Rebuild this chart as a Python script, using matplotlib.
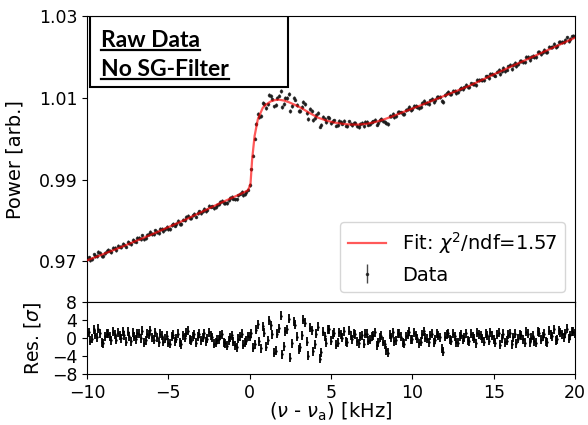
import numpy as np
import matplotlib
matplotlib.use("Agg")
import matplotlib.pyplot as plt
from matplotlib.patches import Rectangle
from matplotlib.lines import Line2D

# frequency scan grid (kHz): two interleaved sweeps, 0.2 kHz step each
freq_a = np.linspace(-10, 20, 151)
freq_b = np.linspace(-9.9, 19.9, 150)

# measured power (arb.), sweep a
power_a = [
    0.97056, 0.97024, 0.97168, 0.97122, 0.97194, 0.97121, 0.97247, 0.97251, 0.97331, 0.97281,
    0.97357, 0.97431, 0.97360, 0.97447, 0.97516, 0.97482, 0.97569, 0.97633, 0.97572, 0.97659,
    0.97669, 0.97754, 0.97690, 0.97788, 0.97791, 0.97786, 0.97888, 0.97874, 0.97981, 0.97912,
    0.98015, 0.98120, 0.98059, 0.98160, 0.98176, 0.98178, 0.98288, 0.98267, 0.98341, 0.98294,
    0.98372, 0.98449, 0.98422, 0.98422, 0.98543, 0.98534, 0.98516, 0.98660, 0.98613, 0.98693,
    0.98861, 0.99591, 1.00356, 1.00542, 1.00877, 1.00755, 1.01069, 1.00968, 1.00826, 1.01059,
    1.00785, 1.00995, 1.01094, 1.00811, 1.00961, 1.00678, 1.00777, 1.00855, 1.00479, 1.00685,
    1.00501, 1.00633, 1.00348, 1.00482, 1.00526, 1.00393, 1.00454, 1.00339, 1.00412, 1.00434,
    1.00318, 1.00373, 1.00400, 1.00319, 1.00368, 1.00304, 1.00411, 1.00368, 1.00429, 1.00350,
    1.00455, 1.00434, 1.00377, 1.00558, 1.00615, 1.00566, 1.00661, 1.00606, 1.00700, 1.00775,
    1.00730, 1.00801, 1.00751, 1.00872, 1.00873, 1.00860, 1.00977, 1.00946, 1.01019, 1.00920,
    1.01074, 1.01142, 1.01097, 1.01174, 1.01143, 1.01252, 1.01261, 1.01262, 1.01360, 1.01347,
    1.01447, 1.01454, 1.01432, 1.01532, 1.01602, 1.01562, 1.01648, 1.01585, 1.01729, 1.01697,
    1.01810, 1.01805, 1.01778, 1.01904, 1.01891, 1.02003, 1.01936, 1.02035, 1.01999, 1.02138,
    1.02134, 1.02125, 1.02264, 1.02246, 1.02242, 1.02377, 1.02372, 1.02422, 1.02399, 1.02512,
    1.02521,
]
# measured power (arb.), sweep b
power_b = [
    0.97094, 0.97058, 0.97129, 0.97223, 0.97119, 0.97209, 0.97267, 0.97230, 0.97320, 0.97369,
    0.97342, 0.97407, 0.97476, 0.97414, 0.97492, 0.97561, 0.97545, 0.97533, 0.97651, 0.97720,
    0.97660, 0.97722, 0.97793, 0.97747, 0.97840, 0.97794, 0.97919, 0.97914, 0.97917, 0.98020,
    0.98083, 0.98054, 0.98123, 0.98094, 0.98222, 0.98224, 0.98226, 0.98354, 0.98342, 0.98326,
    0.98395, 0.98480, 0.98426, 0.98494, 0.98579, 0.98516, 0.98615, 0.98701, 0.98651, 0.98758,
    0.99250, 1.00007, 1.00620, 1.00564, 1.00854, 1.00845, 1.01046, 1.00796, 1.00997, 1.01178,
    1.00859, 1.01003, 1.00685, 1.01010, 1.00824, 1.00680, 1.00911, 1.00642, 1.00734, 1.00456,
    1.00587, 1.00299, 1.00541,
    1.00405, 1.00520, 1.00442, 1.00327, 1.00441, 1.00375, 1.00326, 1.00426, 1.00337, 1.00386,
    1.00296, 1.00385, 1.00411, 1.00351, 1.00412, 1.00469, 1.00394, 1.00481, 1.00421, 1.00364,
    1.00549, 1.00541, 1.00654, 1.00649, 1.00608, 1.00729, 1.00710, 1.00812, 1.00789, 1.00784,
    1.00920, 1.00875, 1.00943, 1.00899, 1.01021, 1.01021, 1.00909, 1.01112, 1.01095, 1.01185,
    1.01132, 1.01222, 1.01218, 1.01318, 1.01269, 1.01351, 1.01321, 1.01448, 1.01445, 1.01532,
    1.01497, 1.01584, 1.01553, 1.01688, 1.01670, 1.01666, 1.01774, 1.01715, 1.01859, 1.01841,
    1.01913, 1.01873, 1.01999, 1.01999, 1.01999, 1.02134, 1.02084, 1.02183, 1.02134, 1.02242,
    1.02332, 1.02269, 1.02377, 1.02363, 1.02485, 1.02453, 1.02525,
]
power_err = 0.00045

# residuals in units of sigma, sweep a
resid_a = [
    0.8, -0.6, 1.9, 0.2, 1.1, -1.2, 0.9, 0.3, 1.4, -0.4,
    0.6, 1.5, -0.8, 0.4, 1.2, -0.3, 0.9, 1.6, -0.5, 0.7,
    0.2, 1.3, -0.9, 0.5, -0.2, -1.1, 0.4, -0.7, 0.9, -1.4,
    0.1, 1.6, -0.6, 0.8, 0.3, -0.5, 1.1, -0.2, 0.6, -1.3,
    -0.4, 0.5, -0.9, -1.7, 0.2, -0.8, -2.0, 0.4, -1.5, -0.6,
    0.3, -2.2, 1.8, -0.7, 2.6, -1.9, 3.9, 0.8, -2.8, 2.2,
    -3.6, 1.5, 4.3, -1.2, 2.9, -2.5, 0.6, 3.4, -3.9, 1.7,
    -1.4, 2.5, -3.2, 0.4, 1.9, -0.6, 1.2, -1.1, 0.8, 1.5,
    -0.9, 0.5, 1.1, -0.7, 0.3, -1.3, 0.9, -0.4, 0.6, -1.6,
    0.2, -0.8, -2.7, 0.7, 1.3, -0.5, 0.9, -1.0, 0.4, 1.4,
    -0.3, 0.6, -1.2, 0.8, 0.1, -0.9, 1.0, -0.4, 0.5, -2.4,
    0.3, 1.1, -0.6, 0.4, -1.0, 0.7, 0.2, -0.5, 0.9, -0.2,
    1.2, 0.5, -0.8, 0.6, 1.3, -0.4, 0.7, -1.5, 0.9, -0.6,
    1.1, 0.2, -1.2, 0.8, -0.3, 1.4, -0.9, 0.5, -1.1, 1.2,
    0.3, -0.7, 1.6, 0.4, -0.5, 1.7, 0.8, 1.1, -0.2, 1.5,
    0.9,
]
# residuals in units of sigma, sweep b
resid_b = [
    1.3, -0.2, 0.7, 2.1, -0.9, 0.4, 1.0, -0.5, 0.8, 1.2,
    -0.1, 0.6, 1.4, -0.7, 0.3, 1.1, 0.0, -1.0, 0.9, 1.7,
    -0.4, 0.2, 1.0, -0.8, 0.5, -1.3, 0.7, -0.2, -0.9, 0.6,
    1.2, -0.3, 0.4, -1.1, 0.9, 0.1, -0.7, 1.3, 0.2, -1.0,
    -0.3, 0.8, -1.2, -0.5, 0.6, -1.6, -0.2, 0.9, -1.1, 0.4,
    1.1, -1.4, 3.1, -2.3, 1.2, -0.5, 2.8, -3.3, 0.9, 5.0,
    -1.8, 2.0, -4.4, 3.6, 0.3, -2.0, 4.1, -0.8, 2.3, -2.9,
    1.0, -4.6, 1.4,
    -1.0, 2.0, 0.7, -1.5, 1.3, 0.1, -0.8, 1.6, -0.3, 0.8,
    -1.2, 0.6, 1.0, -0.6, 0.4, 1.3, -0.9, 0.5, -1.4, -3.3,
    0.2, -0.7, 1.1, 0.3, -1.3, 0.7, -0.4, 1.2, 0.0, -0.8,
    1.5, -0.2, 0.6, -1.1, 0.9, 0.2, -3.0, 0.8, -0.3, 1.0,
    -0.9, 0.4, -0.4, 1.1, -0.7, 0.3, -1.2, 0.8, -0.1, 1.0,
    -0.6, 0.5, -1.0, 1.2, 0.0, -0.9, 0.7, -1.4, 1.0, -0.2,
    0.6, -1.1, 0.9, 0.1, -0.7, 1.5, -0.4, 1.0, -0.9, 0.7,
    1.9, -0.3, 1.3, 0.2, 2.1, 0.6, 1.4,
]

# fit curve
fit_x = [-10, -8, -6, -4, -2, -1, -0.5, -0.1, 0.05, 0.15, 0.3, 0.5, 0.8, 1.0, 1.3,
         1.55, 1.8, 2.1, 2.4, 2.8, 3.2, 3.7, 4.2, 4.7, 5.2, 5.7, 6.2, 6.7, 7.2, 7.7,
         8.2, 8.7, 9.2, 10.5, 12, 13.5, 15, 16.5, 18, 20]
fit_y = [0.9702, 0.9733, 0.9766, 0.9801, 0.9839, 0.9857, 0.9866, 0.9874, 0.9890, 0.9950,
         1.0007, 1.0048, 1.0076, 1.0084, 1.0092, 1.0095, 1.0096, 1.0094, 1.0090, 1.0083,
         1.0075, 1.0063, 1.0052, 1.0045, 1.0040, 1.0037, 1.0035, 1.0035, 1.0037, 1.0041,
         1.0047, 1.0054, 1.0062, 1.0082, 1.0106, 1.0130, 1.0158, 1.0185, 1.0212, 1.0248]

freq = np.concatenate([freq_a, freq_b])
power = np.concatenate([power_a, power_b])
resid = np.concatenate([resid_a, resid_b])

fig = plt.figure(figsize=(5.88, 4.25), dpi=100)
ax = fig.add_axes([0.148, 0.2894, 0.830, 0.6718])
axr = fig.add_axes([0.148, 0.12, 0.830, 0.1694], sharex=ax)

# --- main panel ---
ax.errorbar(freq, power, yerr=power_err, fmt='.', color='#1a1a1a', ms=3,
            elinewidth=1, alpha=0.8, label='Data', zorder=2)
ax.plot(fit_x, fit_y, color='red', lw=1.6, alpha=0.65, zorder=3,
        label=r'Fit: $\chi^2$/ndf=1.57')
ax.set_xlim(-10, 20)
ax.set_ylim(0.96, 1.03)
ax.set_yticks([0.97, 0.99, 1.01, 1.03])
ax.set_yticklabels(['0.97', '0.99', '1.01', '1.03'])
ax.tick_params(labelbottom=False, labelsize=12.5)
ax.set_ylabel('Power [arb.]', fontsize=14)
ax.yaxis.set_label_coords(-0.129, 0.5)
ax.legend(loc='lower right', fontsize=14, borderaxespad=0.5)

# text box in upper left
ax.add_patch(Rectangle((0.006, 0.753), 0.406, 0.247, transform=ax.transAxes,
                       fill=False, edgecolor='black', lw=1.5, zorder=5))
t1 = ax.text(0.0287, 0.894, 'Raw Data', transform=ax.transAxes, fontsize=16.5,
             fontweight='bold', family='Lato', va='baseline', zorder=6)
t2 = ax.text(0.0287, 0.792, 'No SG-Filter', transform=ax.transAxes, fontsize=16.5,
             fontweight='bold', family='Lato', va='baseline', zorder=6)

# --- residual panel ---
axr.errorbar(freq, resid, yerr=1, fmt='.', color='black', ms=1.5, elinewidth=1.3)
axr.set_ylim(-8, 8)
axr.set_yticks([-8, -4, 0, 4, 8])
axr.tick_params(labelsize=12.5)
axr.set_xticks([-10, -5, 0, 5, 10, 15, 20])
axr.set_ylabel(r'Res. [$\sigma$]', fontsize=13.5)
axr.yaxis.set_label_coords(-0.09, 0.5)
axr.set_xlabel(r'($\nu$ - $\nu_\mathrm{a}$) [kHz]', fontsize=14)
axr.xaxis.set_label_coords(0.5, -0.37)

# underline the box text
fig.canvas.draw()
inv = fig.transFigure.inverted()
for t in (t1, t2):
    bb = t.get_window_extent()
    x0, _ = inv.transform((bb.x0, 0))
    x1, _ = inv.transform((bb.x1, 0))
    base = ax.transAxes.transform((0, t.get_position()[1]))[1]
    _, yb = inv.transform((0, base - 3.5))
    fig.add_artist(Line2D([x0, x1], [yb, yb], transform=fig.transFigure,
                          color='black', lw=1.6))

fig.savefig('out.png', dpi=100)
